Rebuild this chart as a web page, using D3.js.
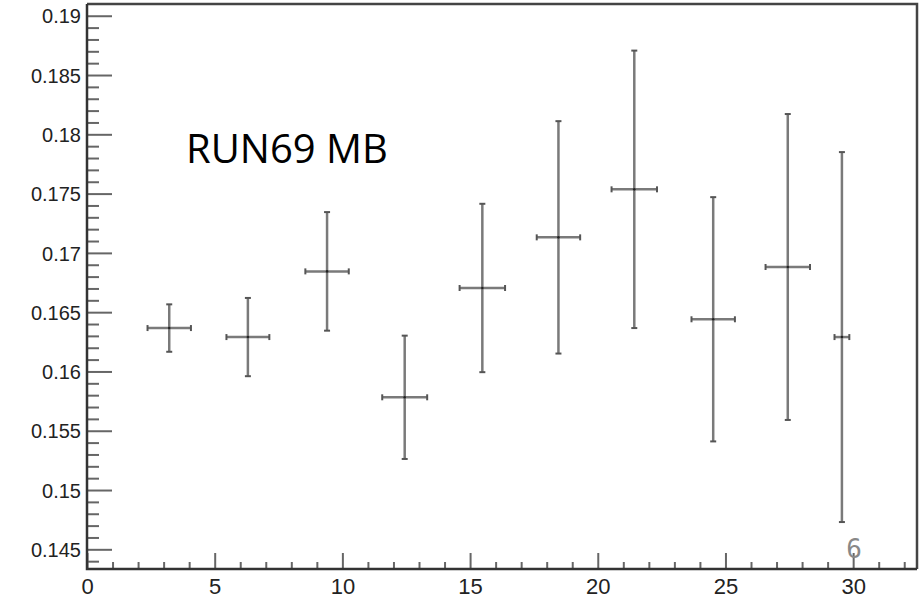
<!DOCTYPE html>
<html>
<head>
<meta charset="utf-8">
<script src="https://cdn.jsdelivr.net/npm/d3@7"></script>
<style>
  body { margin: 0; background: #fff; }
  svg { display: block; }
</style>
</head>
<body>
<svg id="chart" width="919" height="600"></svg>
<script>
// bin centres, half widths, values and errors
var binX    = [3.22, 6.30, 9.40, 12.44, 15.48, 18.46, 21.43, 24.52, 27.44, 29.56];
var binXErr = [0.85, 0.84, 0.85, 0.88, 0.89, 0.85, 0.89, 0.85, 0.87, 0.29];
var valY    = [0.16366, 0.16290, 0.16844, 0.15782, 0.16704, 0.17131, 0.17536, 0.16440, 0.16881, 0.16290];
var valYErr = [0.0020, 0.0033, 0.0050, 0.0052, 0.0071, 0.0098, 0.0117, 0.0103, 0.0129, 0.0156];

var xMajor = [0, 5, 10, 15, 20, 25, 30];
var yMajor = [0.145, 0.15, 0.155, 0.16, 0.165, 0.17, 0.175, 0.18, 0.185, 0.19];
var xDomain = [0, 32.5];
var yDomain = [0.14334, 0.19099];

var padL = 87, padR = 917, padT = 4, padB = 569;

var svg = d3.select('#chart');
var x = d3.scaleLinear().domain(xDomain).range([padL, padR]);
var y = d3.scaleLinear().domain(yDomain).range([padB, padT]);

var xMinor = d3.range(1, 33).filter(function(d) { return d % 5 !== 0; });
var yMinor = d3.range(144, 191).map(function(d) { return d / 1000; })
  .filter(function(d) { return yMajor.every(function(m) { return Math.abs(m - d) > 1e-6; }); });

// frame top and right
svg.append('path')
  .attr('d', 'M' + padL + ',' + padT + 'H' + padR + 'V' + padB)
  .attr('fill', 'none')
  .attr('stroke', '#444')
  .attr('stroke-width', 2.5);

// y axis
var gy = svg.append('g').attr('transform', 'translate(' + padL + ',0)');
gy.call(d3.axisLeft(y).tickValues(yMinor).tickSize(-12).tickSizeOuter(0).tickFormat(''));
gy.select('.domain').remove();
var gyM = svg.append('g').attr('transform', 'translate(' + padL + ',0)');
gyM.call(d3.axisLeft(y).tickValues(yMajor).tickSize(-25).tickSizeOuter(0).tickPadding(6)
  .tickFormat(function(d) { return String(+d.toFixed(3)); }));
gyM.select('.domain').remove();
gyM.selectAll('text')
  .attr('font-family', 'Liberation Sans, Arial, sans-serif')
  .attr('font-size', 20)
  .attr('fill', '#222')
  .attr('dy', '0.36em');

// x axis
var gx = svg.append('g').attr('transform', 'translate(0,' + padB + ')');
gx.call(d3.axisBottom(x).tickValues(xMinor).tickSize(-7).tickSizeOuter(0).tickFormat(''));
gx.select('.domain').remove();
var gxM = svg.append('g').attr('transform', 'translate(0,' + padB + ')');
gxM.call(d3.axisBottom(x).tickValues(xMajor).tickSize(-16).tickSizeOuter(0).tickPadding(8));
gxM.select('.domain').remove();
gxM.selectAll('text')
  .attr('font-family', 'Liberation Sans, Arial, sans-serif')
  .attr('font-size', 22)
  .attr('fill', '#222')
  .attr('dy', '0.75em');

svg.selectAll('.tick line').attr('stroke', '#666').attr('stroke-width', 2);

// axis lines
svg.append('path')
  .attr('d', 'M' + padL + ',' + padT + 'V' + padB + 'H' + padR)
  .attr('fill', 'none')
  .attr('stroke', '#333')
  .attr('stroke-width', 2.5);

// error bars
var pts = binX.map(function(d, i) {
  return { x: d, xe: binXErr[i], y: valY[i], ye: valYErr[i] };
});
var g = svg.append('g');
var bars = g.selectAll('g.pt').data(pts).enter().append('g').attr('class', 'pt');

bars.append('line')
  .attr('x1', function(d) { return x(d.x); })
  .attr('x2', function(d) { return x(d.x); })
  .attr('y1', function(d) { return y(d.y + d.ye); })
  .attr('y2', function(d) { return y(d.y - d.ye); })
  .attr('stroke', '#7a7a7a').attr('stroke-width', 2.5);
bars.append('line')
  .attr('x1', function(d) { return x(d.x - d.xe); })
  .attr('x2', function(d) { return x(d.x + d.xe); })
  .attr('y1', function(d) { return y(d.y); })
  .attr('y2', function(d) { return y(d.y); })
  .attr('stroke', '#7a7a7a').attr('stroke-width', 2.5);

// end caps
[1, -1].forEach(function(s) {
  bars.append('line')
    .attr('x1', function(d) { return x(d.x) - 3; })
    .attr('x2', function(d) { return x(d.x) + 3; })
    .attr('y1', function(d) { return y(d.y + s * d.ye); })
    .attr('y2', function(d) { return y(d.y + s * d.ye); })
    .attr('stroke', '#555').attr('stroke-width', 2);
  bars.append('line')
    .attr('x1', function(d) { return x(d.x + s * d.xe); })
    .attr('x2', function(d) { return x(d.x + s * d.xe); })
    .attr('y1', function(d) { return y(d.y) - 3; })
    .attr('y2', function(d) { return y(d.y) + 3; })
    .attr('stroke', '#555').attr('stroke-width', 2);
});
bars.append('circle')
  .attr('cx', function(d) { return x(d.x); })
  .attr('cy', function(d) { return y(d.y); })
  .attr('r', 1.3)
  .attr('fill', '#222');

// labels
svg.append('text')
  .attr('x', 186).attr('y', 163)
  .attr('font-family', 'Open Sans, Noto Sans, sans-serif')
  .attr('font-size', 40)
  .attr('fill', '#000')
  .text('RUN69 MB');

svg.append('text')
  .attr('x', 854).attr('y', 558)
  .attr('text-anchor', 'middle')
  .attr('font-family', 'DejaVu Sans Mono, monospace')
  .attr('font-size', 26)
  .attr('fill', '#888')
  .text('6');
</script>
</body>
</html>
